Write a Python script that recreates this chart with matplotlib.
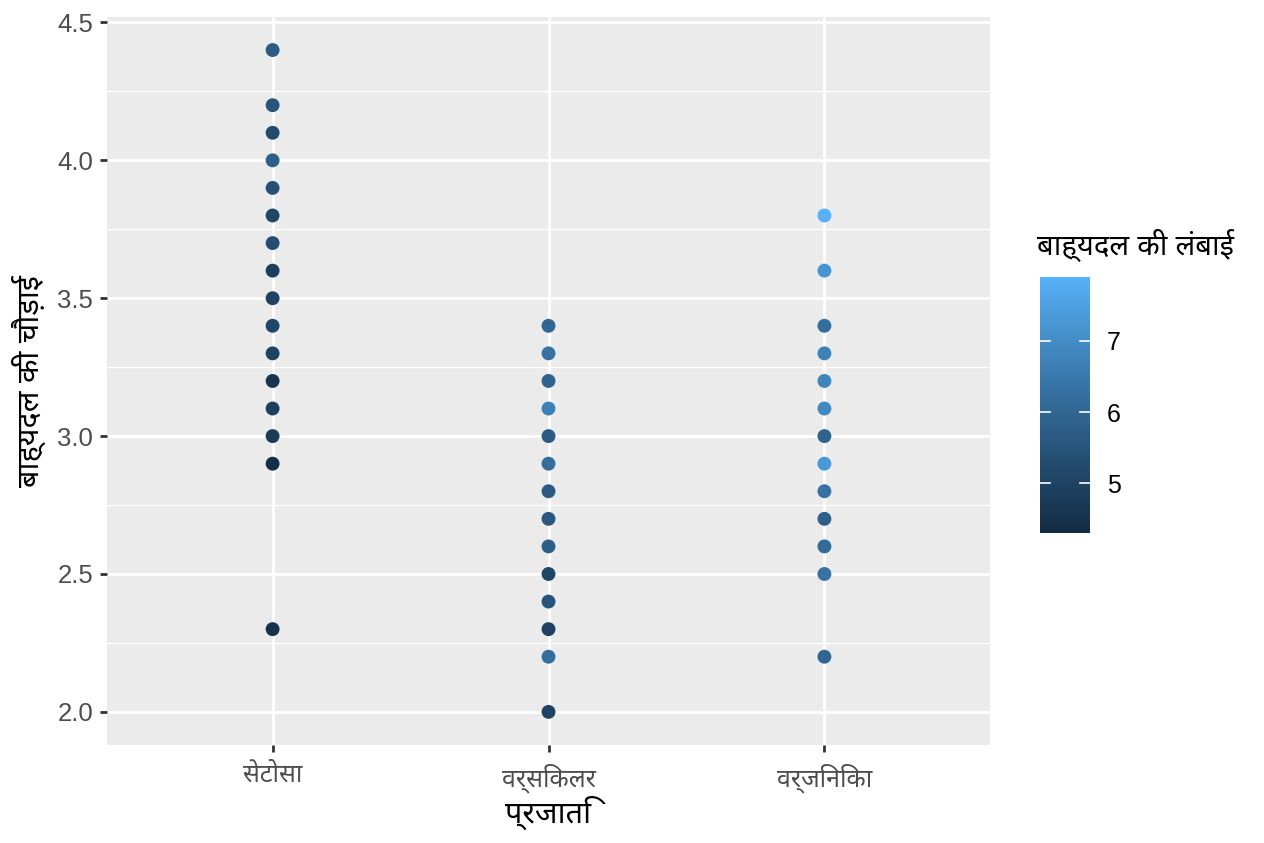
import numpy as np
import matplotlib
matplotlib.use("Agg")
import matplotlib.pyplot as plt
from matplotlib.colors import ListedColormap, Normalize

plt.rcParams['font.family'] = ['Liberation Sans', 'Noto Sans Devanagari', 'DejaVu Sans']

# ---- data (visible points, colour = sepal length) ----
species = ["सेटोसा", "वर्सिकलर", "वर्जिनिका"]

setosa_width = [4.4, 4.2, 4.1, 4.0, 3.9, 3.8, 3.7, 3.6, 3.5, 3.4, 3.3, 3.2, 3.1, 3.0, 2.9, 2.3]
setosa_length = [5.7, 5.5, 5.2, 5.8, 5.4, 5.1, 5.3, 4.9, 5.0, 5.1, 5.0, 4.6, 4.9, 4.8, 4.4, 4.5]

versicolor_width = [3.4, 3.3, 3.2, 3.1, 3.0, 2.9, 2.8, 2.7, 2.6, 2.5, 2.4, 2.3, 2.2, 2.0]
versicolor_length = [6.0, 6.3, 5.9, 6.7, 5.7, 6.2, 5.7, 5.6, 5.8, 5.1, 5.5, 5.0, 6.2, 5.0]

virginica_width = [3.8, 3.6, 3.4, 3.3, 3.2, 3.1, 3.0, 2.9, 2.8, 2.7, 2.6, 2.5, 2.2]
virginica_length = [7.9, 7.2, 6.2, 6.7, 6.8, 6.9, 5.9, 7.3, 6.3, 5.8, 6.1, 6.3, 6.0]

length_min, length_max = 4.3, 7.9

widths = [setosa_width, versicolor_width, virginica_width]
lengths = [setosa_length, versicolor_length, virginica_length]

# ---- ggplot default gradient (#132B43 -> #56B1F7, Lab interpolation) ----
def hex_rgb(h):
    return np.array([int(h[i:i + 2], 16) for i in (1, 3, 5)]) / 255.0

M = np.array([[0.4124, 0.3576, 0.1805],
              [0.2126, 0.7152, 0.0722],
              [0.0193, 0.1192, 0.9505]])
WHITE = np.array([0.95047, 1.0, 1.08883])

def rgb_to_lab(c):
    lin = np.where(c <= 0.04045, c / 12.92, ((c + 0.055) / 1.055) ** 2.4)
    xyz = M @ lin / WHITE
    f = np.where(xyz > 0.008856, np.cbrt(xyz), 7.787 * xyz + 16 / 116)
    return np.array([116 * f[1] - 16, 500 * (f[0] - f[1]), 200 * (f[1] - f[2])])

def lab_to_rgb(lab):
    fy = (lab[0] + 16) / 116
    f = np.array([fy + lab[1] / 500, fy, fy - lab[2] / 200])
    xyz = np.where(f ** 3 > 0.008856, f ** 3, (f - 16 / 116) / 7.787) * WHITE
    lin = np.linalg.solve(M, xyz)
    c = np.where(lin <= 0.0031308, 12.92 * lin, 1.055 * np.clip(lin, 0, None) ** (1 / 2.4) - 0.055)
    return np.clip(c, 0, 1)

lo, hi = rgb_to_lab(hex_rgb("#132B43")), rgb_to_lab(hex_rgb("#56B1F7"))
cmap = ListedColormap([lab_to_rgb(lo + (hi - lo) * t) for t in np.linspace(0, 1, 256)])
norm = Normalize(length_min, length_max)

# ---- figure ----
fig = plt.figure(figsize=(12.64, 8.43), dpi=100)
ax = fig.add_axes([0.0847, 0.1163, 0.6985, 0.8636])
ax.set_facecolor("#EBEBEB")

for i in range(len(species)):
    ax.scatter([i] * len(widths[i]), widths[i], c=lengths[i], cmap=cmap, norm=norm,
               s=100, linewidths=0, zorder=3)

ax.set_xlim(-0.6, 2.6)
ax.set_ylim(1.88, 4.52)
ax.set_xticks(range(len(species)))
ax.set_xticklabels(species)
ax.set_yticks([2.0, 2.5, 3.0, 3.5, 4.0, 4.5])
ax.set_yticklabels(["2.0", "2.5", "3.0", "3.5", "4.0", "4.5"])
ax.set_yticks([2.25, 2.75, 3.25, 3.75, 4.25], minor=True)

ax.grid(True, which="major", color="white", linewidth=2.0, zorder=1)
ax.grid(True, which="minor", axis="y", color="white", linewidth=1.0, zorder=1)
ax.set_axisbelow(True)
for sp in ax.spines.values():
    sp.set_visible(False)

ax.tick_params(axis="both", which="major", length=5, width=2, color="#333333",
               labelcolor="#4D4D4D", labelsize=18.5, pad=5)
ax.tick_params(axis="x", labelsize=18, pad=8)
ax.tick_params(axis="y", which="minor", length=0)

ax.set_xlabel("प्रजाति", fontsize=22, labelpad=2)
ax.set_ylabel("बाह्यदल की चौड़ाई", fontsize=22, labelpad=8)

# ---- colourbar legend ----
cax = fig.add_axes([1040 / 1264, 1 - 533 / 843, 50 / 1264, 256 / 843])
sm = plt.cm.ScalarMappable(norm=norm, cmap=cmap)
cb = fig.colorbar(sm, cax=cax)
cb.outline.set_visible(False)
cb.set_ticks([5, 6, 7])
cb.ax.tick_params(length=0, labelsize=18, labelcolor="black", pad=12)
for v in [5, 6, 7]:
    cax.plot([0, 0.2], [v, v], color="white", linewidth=1.2, transform=cax.get_yaxis_transform())
    cax.plot([0.8, 1], [v, v], color="white", linewidth=1.2, transform=cax.get_yaxis_transform())
fig.text(1037 / 1264, 1 - 245 / 843, "बाह्यदल की लंबाई", fontsize=21, va="center", ha="left")

fig.savefig("out.png")
